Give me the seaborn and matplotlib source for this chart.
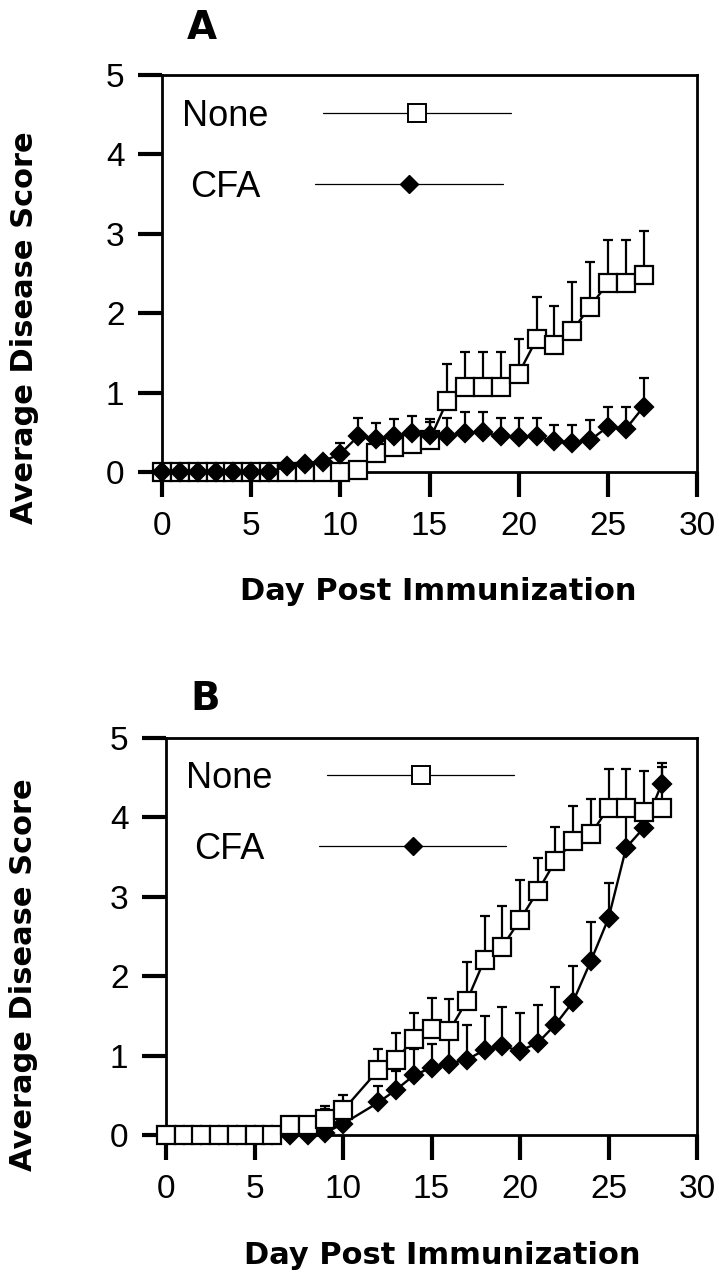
import numpy as np
import seaborn as sns
import matplotlib.pyplot as plt
from matplotlib.lines import Line2D

# Panel A
days_a = list(range(0, 28))
none_a = [0, 0, 0, 0, 0, 0, 0, 0, 0, 0, 0, 0.03, 0.24, 0.32, 0.35, 0.40, 0.90, 1.07,
          1.07, 1.07, 1.24, 1.67, 1.60, 1.78, 2.08, 2.38, 2.38, 2.48]
none_a_err = [0, 0, 0, 0, 0, 0, 0, 0, 0, 0, 0, 0, 0.12, 0.15, 0.18, 0.27, 0.46, 0.44,
              0.44, 0.44, 0.44, 0.53, 0.49, 0.61, 0.57, 0.54, 0.54, 0.55]
cfa_a = [0, 0, 0, 0, 0, 0, 0, 0.07, 0.10, 0.13, 0.23, 0.45, 0.42, 0.45, 0.49, 0.46, 0.45,
         0.49, 0.50, 0.45, 0.44, 0.45, 0.39, 0.37, 0.40, 0.57, 0.54, 0.82]
cfa_a_err = [0, 0, 0, 0, 0, 0, 0, 0, 0, 0, 0.13, 0.23, 0.20, 0.22, 0.21, 0.17, 0.23,
             0.26, 0.25, 0.23, 0.24, 0.23, 0.20, 0.22, 0.25, 0.25, 0.28, 0.36]

# Panel B (no reading on day 11)
days_b = list(range(0, 11)) + list(range(12, 29))
none_b = [0, 0, 0, 0, 0, 0, 0, 0.13, 0.13, 0.20, 0.31, 0.82, 0.95, 1.21, 1.33, 1.31,
          1.69, 2.21, 2.37, 2.71, 3.07, 3.45, 3.70, 3.79, 4.12, 4.12, 4.07, 4.12]
none_b_err = [0, 0, 0, 0, 0, 0, 0, 0, 0, 0.16, 0.19, 0.26, 0.33, 0.33, 0.40, 0.40,
              0.49, 0.55, 0.52, 0.50, 0.42, 0.43, 0.44, 0.44, 0.49, 0.49, 0.52, 0.51]
cfa_b = [0, 0, 0, 0, 0, 0, 0, 0, 0, 0.03, 0.14, 0.41, 0.57, 0.75, 0.85, 0.90, 0.95,
         1.07, 1.12, 1.06, 1.16, 1.39, 1.68, 2.19, 2.73, 3.62, 3.87, 4.42]
cfa_b_err = [0, 0, 0, 0, 0, 0, 0, 0, 0, 0.30, 0.20, 0.21, 0.23, 0.33, 0.30, 0.35, 0.43,
             0.43, 0.49, 0.48, 0.48, 0.48, 0.45, 0.49, 0.45, 0.45, 0.20, 0.27]

xticks = [0, 5, 10, 15, 20, 25, 30]
yticks = [0, 1, 2, 3, 4, 5]

W, H = 719, 1280
SQ_MS = 12.5
DIA_MS = 9.5


def series(ax, days, vals, err, marker, ms, face, z):
    ax.errorbar(days, vals, yerr=[np.zeros(len(err)), err], fmt="none",
                ecolor="black", elinewidth=1.6, capsize=3.5, capthick=1.6,
                zorder=z)
    sns.lineplot(x=days, y=vals, ax=ax, color="black", lw=1.7, marker=marker,
                 markersize=ms, markerfacecolor=face, markeredgecolor="black",
                 markeredgewidth=1.6, clip_on=False, zorder=z + 1,
                 errorbar=None)


def style_axes(ax):
    ax.set_xlim(0, 30)
    ax.set_ylim(0, 5)
    ax.set_xticks(xticks)
    ax.set_yticks(yticks)
    ax.set_xlabel("")
    ax.set_ylabel("")
    for s in ax.spines.values():
        s.set_linewidth(2)
        s.set_color("black")
    ax.tick_params(axis="x", direction="out", length=18, width=3, pad=10,
                   labelsize=24, colors="black")
    ax.tick_params(axis="y", direction="out", length=17, width=3, pad=10,
                   labelsize=24, colors="black")


def add_legend(ax, y_anchor):
    handles = [
        Line2D([], [], color="black", lw=0.9, marker="s", markersize=SQ_MS,
               markerfacecolor="white", markeredgecolor="black", markeredgewidth=1.4),
        Line2D([], [], color="black", lw=0.9, marker="D", markersize=DIA_MS,
               markerfacecolor="black", markeredgecolor="black"),
    ]
    leg = ax.legend(handles, ["None", "CFA"], loc="upper left",
                    bbox_to_anchor=(0.038, y_anchor), frameon=False,
                    markerfirst=False, handlelength=5.2, handletextpad=1.5,
                    labelspacing=1.0, fontsize=26, borderpad=0, borderaxespad=0)
    # rows centred on each other, like the original key
    for col in leg._legend_handle_box.get_children():
        col.align = "center"


def main():
    sns.set_style("ticks")
    plt.rcParams["font.family"] = ["Liberation Sans", "DejaVu Sans"]
    plt.rcParams["text.color"] = "black"
    plt.rcParams["axes.labelcolor"] = "black"
    plt.rcParams["xtick.color"] = "black"
    plt.rcParams["ytick.color"] = "black"

    fig = plt.figure(figsize=(W / 100, H / 100), dpi=100)

    ax_a = fig.add_axes([162 / W, 1 - 472 / H, 535 / W, 397 / H])
    series(ax_a, days_a, none_a, none_a_err, "s", SQ_MS, "white", 2)
    series(ax_a, days_a, cfa_a, cfa_a_err, "D", DIA_MS, "black", 4)
    style_axes(ax_a)
    add_legend(ax_a, 1 - 24 / 397)

    ax_b = fig.add_axes([166 / W, 1 - 1135 / H, 531 / W, 397 / H])
    series(ax_b, days_b, cfa_b, cfa_b_err, "D", DIA_MS, "black", 2)
    series(ax_b, days_b, none_b, none_b_err, "s", SQ_MS, "white", 4)
    style_axes(ax_b)
    add_legend(ax_b, 1 - 23 / 397)

    lab = dict(family="DejaVu Sans", fontweight="bold", ha="center",
               va="center", color="black")
    fig.text(202 / W, 1 - 28 / H, "A", fontsize=28, **lab)
    fig.text(205 / W, 1 - 699 / H, "B", fontsize=28, **lab)
    fig.text(25 / W, 1 - 328 / H, "Average Disease Score", fontsize=22,
             rotation=90, **lab)
    fig.text(24 / W, 1 - 975 / H, "Average Disease Score", fontsize=22,
             rotation=90, **lab)
    fig.text(438 / W, 1 - 592 / H, "Day Post Immunization", fontsize=22, **lab)
    fig.text(442 / W, 1 - 1256 / H, "Day Post Immunization", fontsize=22, **lab)

    fig.savefig("out.png", dpi=100, facecolor="white")


if __name__ == "__main__":
    main()
